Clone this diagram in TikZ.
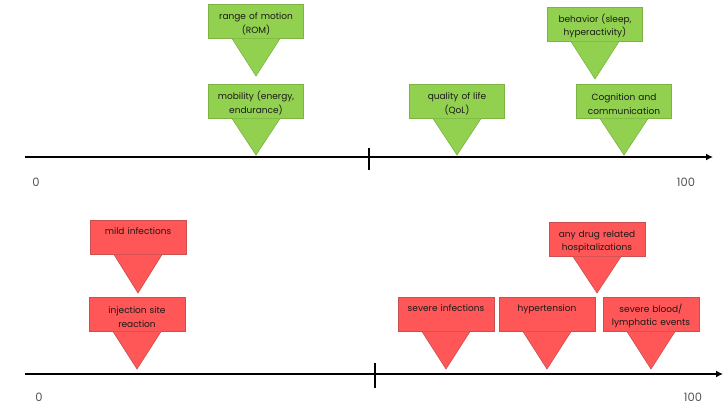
\documentclass[tikz,border=0pt]{standalone}
\usepackage{fontspec}
\setmainfont{Poppins}
\usetikzlibrary{calc,arrows.meta}
\definecolor{gfill}{HTML}{92D050}
\definecolor{gline}{HTML}{7CB342}
\definecolor{rfill}{HTML}{FF5757}
\definecolor{rline}{HTML}{C85050}
\definecolor{axisgray}{HTML}{555555}
\definecolor{txt}{HTML}{1A1A1A}
\newcommand{\toppad}{\rule{0pt}{12pt}}
\tikzset{
  gbox/.style={fill=gfill, draw=gline, line width=0.6pt, minimum width=95pt, minimum height=34pt,
    inner sep=0pt, text width=93pt, align=center, text=txt, font=\fontsize{9}{13.5}\selectfont},
  rbox/.style={fill=rfill, draw=rline, line width=0.6pt, minimum width=96pt, minimum height=34pt,
    inner sep=0pt, text width=94pt, align=center, text=txt, font=\fontsize{9}{13.5}\selectfont},
  gboxtri/.style={fill=gfill},
  rboxtri/.style={fill=rfill},
  gboxedge/.style={draw=gline, line width=0.6pt},
  rboxedge/.style={draw=rline, line width=0.6pt},
  axisline/.style={line width=2.3pt, -{Latex[length=7pt,width=7pt]}},
  tickline/.style={line width=1.2pt},
  numlabel/.style={font=\fontsize{11.5}{13}\selectfont, text=axisgray, inner sep=0pt}
}
\newcommand{\mycallout}[6]{%
  \coordinate (#1tip) at (#3,#5);
  \node[#2, anchor=north] (#1) at (#3,#4) {\toppad#6};
  \fill[#2tri] ($(#1.south)+(-24,0)$) -- (#1tip) -- ($(#1.south)+(24,0)$) -- cycle;
  \draw[#2edge] ($(#1.south)+(-24,0)$) -- (#1tip) -- ($(#1.south)+(24,0)$);
}
\begin{document}
\begin{tikzpicture}[x=1pt,y=-1pt]
\useasboundingbox (0,0) rectangle (725,413);
% top axis
\coordinate (ta0) at (25,157);
\coordinate (ta1) at (713,157);
\draw[axisline] (ta0) -- (ta1);
\coordinate (tt0) at (369,148);
\coordinate (tt1) at (369,170);
\draw[tickline] (tt0) -- (tt1);
\node[numlabel] (tz) at (36,182) {0};
\node[numlabel] (th) at (686,182) {100};
% bottom axis
\coordinate (ba0) at (25,374);
\coordinate (ba1) at (723,374);
\draw[axisline] (ba0) -- (ba1);
\coordinate (bt0) at (375,363);
\coordinate (bt1) at (375,388);
\draw[tickline] (bt0) -- (bt1);
\node[numlabel] (bz) at (39,397) {0};
\node[numlabel] (bh) at (693,397) {100};
% green callouts
\mycallout{rom}{gbox}{256}{4}{76}{range of motion\\(ROM)}
\mycallout{mob}{gbox}{256}{84}{155}{mobility (energy,\\endurance)}
\mycallout{qol}{gbox}{457}{84}{155}{quality of life\\(QoL)}
\mycallout{beh}{gbox}{595}{7}{79}{behavior (sleep,\\hyperactivity)}
\mycallout{cog}{gbox}{624}{84}{155}{Cognition and\\communication}
% red callouts
\mycallout{mild}{rbox}{138}{220}{293}{mild infections\\\strut}
\mycallout{inj}{rbox}{137}{297}{369}{injection site\\reaction}
\mycallout{sev}{rbox}{446}{297}{369}{severe infections\\\strut}
\mycallout{hyp}{rbox}{547}{297}{369}{hypertension\\\strut}
\mycallout{blood}{rbox}{651}{297}{369}{severe blood/\\lymphatic events}
\mycallout{hosp}{rbox}{597}{222}{293}{any drug related\\hospitalizations}
\end{tikzpicture}
\end{document}
